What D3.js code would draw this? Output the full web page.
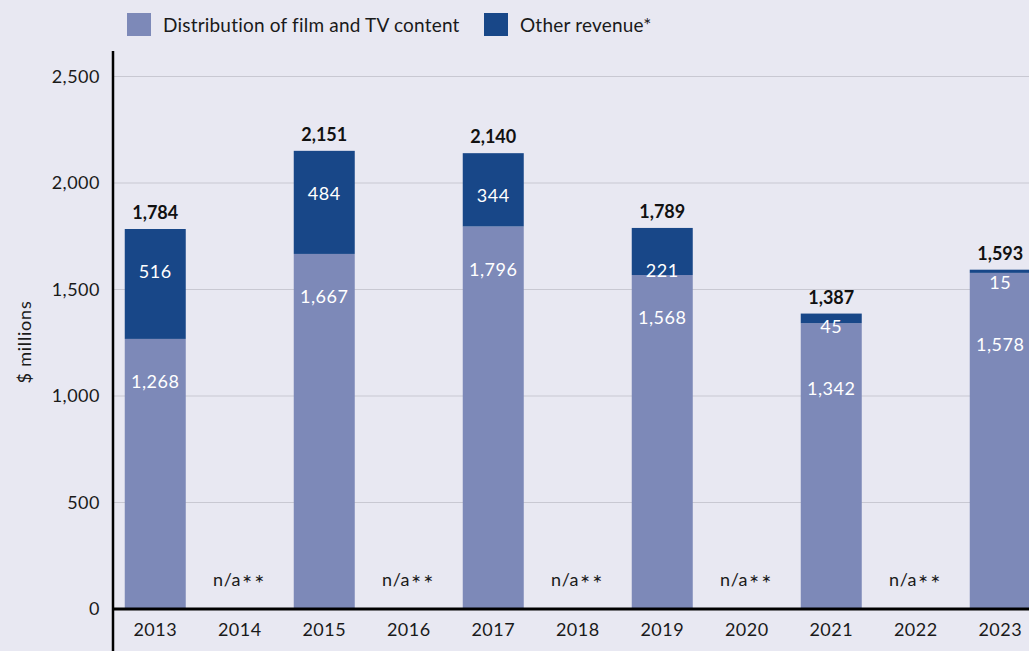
<!DOCTYPE html>
<html>
<head>
<meta charset="utf-8">
<script src="https://cdn.jsdelivr.net/npm/d3@7/dist/d3.min.js"></script>
<style>
  html, body { margin: 0; padding: 0; background: #e8e8f2; }
  svg { display: block; font-family: "Lato", "Noto Sans", sans-serif; }
</style>
</head>
<body>
<svg id="chart" width="1029" height="651"></svg>
<script>
// Years on the x axis
const years = ["2013","2014","2015","2016","2017","2018","2019","2020","2021","2022","2023"];
// Revenue from distribution of film and TV content ($ millions), null = not available
const distribution = [1268, null, 1667, null, 1796, null, 1568, null, 1342, null, 1578];
// Other revenue ($ millions)
const otherRevenue = [516, null, 484, null, 344, null, 221, null, 45, null, 15];
// Totals shown above each bar
const totals = [1784, null, 2151, null, 2140, null, 1789, null, 1387, null, 1593];
// Y axis ticks
const yTicks = [0, 500, 1000, 1500, 2000, 2500];
const seriesNames = ["Distribution of film and TV content", "Other revenue*"];
const naLabel = ["n/a", "**"];

const colors = { dist: "#7d89b8", other: "#184788" };
const fmt = d3.format(",");

const svg = d3.select("#chart");
const W = 1029, H = 651;
const axisX = 113, zeroY = 609;

const x = d3.scaleBand()
  .domain(years)
  .range([axisX, axisX + 11 * 84.5])
  .paddingInner(0.278)
  .paddingOuter(0.139);

const y = d3.scaleLinear().domain([0, 2500]).range([zeroY, 76.5]);

// Gridlines
svg.append("g")
  .selectAll("line")
  .data(yTicks.filter(d => d > 0))
  .join("line")
  .attr("x1", axisX).attr("x2", W)
  .attr("y1", d => y(d)).attr("y2", d => y(d))
  .attr("stroke", "#c8c8d2").attr("stroke-width", 1.2);

// Y tick labels
svg.append("g")
  .selectAll("text")
  .data(yTicks)
  .join("text")
  .attr("x", 100)
  .attr("y", d => y(d))
  .attr("dy", "0.35em")
  .attr("text-anchor", "end")
  .attr("font-size", 18)
  .attr("letter-spacing", 0.5)
  .attr("fill", "#1a1a1a")
  .text(d => fmt(d));

// Y axis title
svg.append("text")
  .attr("transform", `translate(31,342) rotate(-90)`)
  .attr("text-anchor", "middle")
  .attr("font-size", 18)
  .attr("letter-spacing", 0.8)
  .attr("fill", "#1a1a1a")
  .text("$ millions");

const rows = years.map((yr, i) => ({
  year: yr, dist: distribution[i], other: otherRevenue[i], total: totals[i]
}));

const barW = x.bandwidth();
const withData = rows.filter(r => r.dist != null);

// Distribution segment
svg.append("g").selectAll("rect")
  .data(withData)
  .join("rect")
  .attr("x", d => x(d.year))
  .attr("width", barW)
  .attr("y", d => y(d.dist))
  .attr("height", d => y(0) - y(d.dist))
  .attr("fill", colors.dist);

// Other revenue segment stacked on top
svg.append("g").selectAll("rect")
  .data(withData)
  .join("rect")
  .attr("x", d => x(d.year))
  .attr("width", barW)
  .attr("y", d => y(d.dist + d.other))
  .attr("height", d => y(d.dist) - y(d.dist + d.other))
  .attr("fill", colors.other);

const cx = d => x(d.year) + barW / 2;
const small = d => (y(d.dist) - y(d.dist + d.other)) < 40;

// Segment value labels
svg.append("g").selectAll("text")
  .data(withData)
  .join("text")
  .attr("x", cx)
  .attr("y", d => small(d) ? y(d.dist + d.other) + 13 : y(d.dist + d.other) + 43)
  .attr("dy", "0.35em")
  .attr("text-anchor", "middle")
  .attr("font-size", 18)
  .attr("letter-spacing", 0.5)
  .attr("fill", "#ffffff")
  .text(d => fmt(d.other));

svg.append("g").selectAll("text")
  .data(withData)
  .join("text")
  .attr("x", cx)
  .attr("y", d => small(d) ? y(d.dist + d.other) + 75 : y(d.dist) + 43)
  .attr("dy", "0.35em")
  .attr("text-anchor", "middle")
  .attr("font-size", 18)
  .attr("letter-spacing", 0.5)
  .attr("fill", "#ffffff")
  .text(d => fmt(d.dist));

// Totals above bars
svg.append("g").selectAll("text")
  .data(withData)
  .join("text")
  .attr("x", cx)
  .attr("y", d => y(d.total) - 10)
  .attr("text-anchor", "middle")
  .attr("font-size", 18)
  .attr("font-weight", "bold")
  .attr("fill", "#111")
  .text(d => fmt(d.total));

// n/a markers
const na = svg.append("g").selectAll("text")
  .data(rows.filter(r => r.dist == null))
  .join("text")
  .attr("x", cx)
  .attr("y", 586)
  .attr("text-anchor", "middle")
  .attr("font-size", 18)
  .attr("letter-spacing", 0.5)
  .attr("fill", "#1a1a1a");
na.append("tspan").text(naLabel[0]);
na.append("tspan")
  .attr("font-size", 24)
  .attr("dy", 6)
  .attr("dx", 1)
  .attr("letter-spacing", 2)
  .text(naLabel[1]);

// X axis
const xAxis = svg.append("g").attr("transform", `translate(0,${zeroY})`)
  .call(d3.axisBottom(x).tickSize(0).tickPadding(14));
xAxis.select(".domain").remove();
xAxis.selectAll("text").attr("font-size", 18).attr("fill", "#1a1a1a")
  .attr("letter-spacing", 0.5)
  .attr("font-family", "Lato, 'Noto Sans', sans-serif");
svg.append("line")
  .attr("x1", axisX).attr("x2", W)
  .attr("y1", zeroY).attr("y2", zeroY)
  .attr("stroke", "#000").attr("stroke-width", 3);

// Y axis line
svg.append("line")
  .attr("x1", axisX).attr("x2", axisX)
  .attr("y1", 51).attr("y2", H)
  .attr("stroke", "#000").attr("stroke-width", 2.5);

// Legend
const legend = svg.append("g");
const legendItems = [
  { name: seriesNames[0], color: colors.dist, x: 127 },
  { name: seriesNames[1], color: colors.other, x: 484 }
];
legend.selectAll("rect").data(legendItems).join("rect")
  .attr("x", d => d.x).attr("y", 13).attr("width", 24).attr("height", 23)
  .attr("fill", d => d.color);
legend.selectAll("text").data(legendItems).join("text")
  .attr("x", d => d.x + 36).attr("y", 25).attr("dy", "0.35em")
  .attr("font-size", 19).attr("letter-spacing", 0.2).attr("fill", "#1a1a1a")
  .text(d => d.name);
</script>
</body>
</html>
